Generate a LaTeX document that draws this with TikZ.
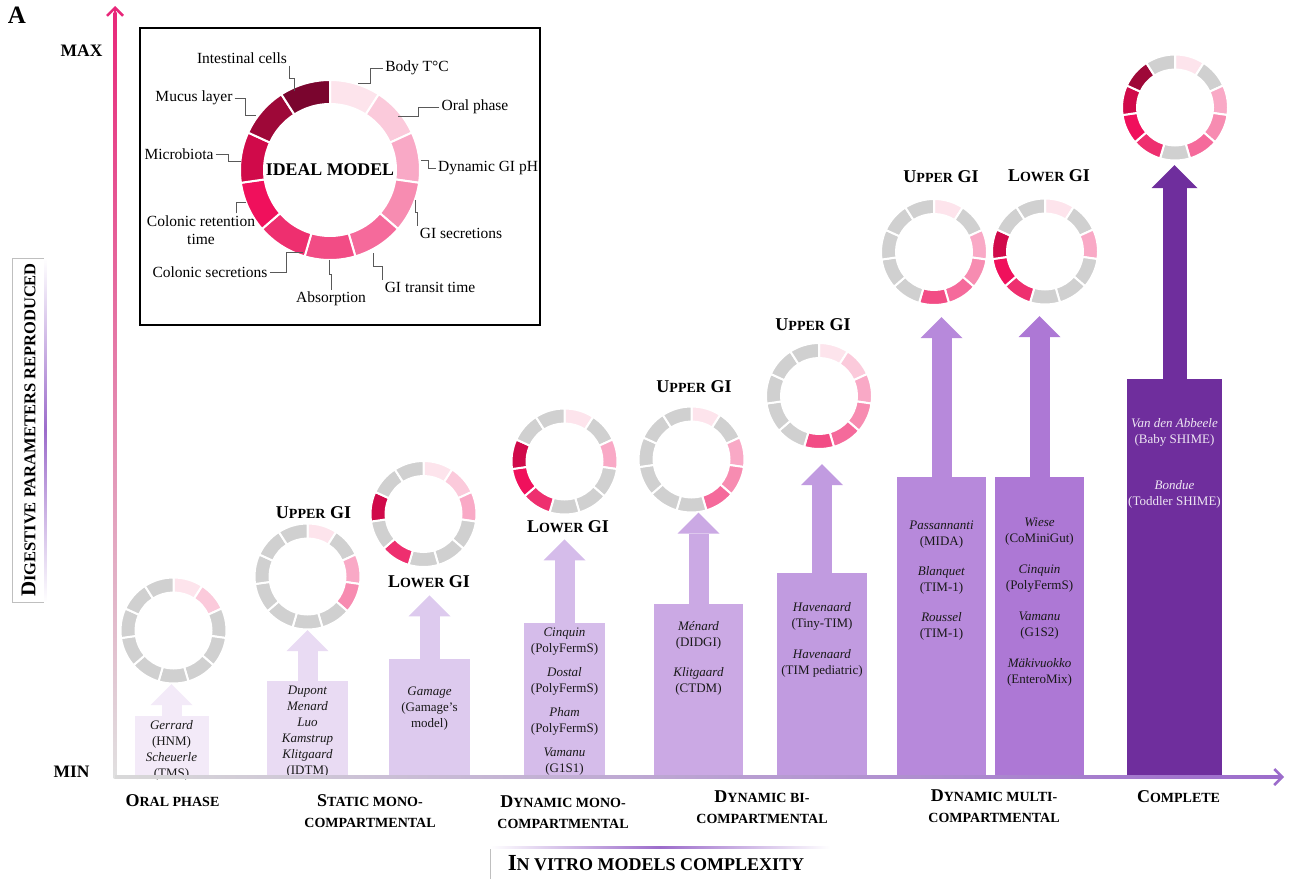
\documentclass[tikz,border=0pt]{standalone}
\usepackage{fontspec}
\setmainfont{Liberation Serif}
\usetikzlibrary{arrows.meta,positioning,calc}

% ring segment colours, clockwise from the top
\definecolor{pk0}{HTML}{FDE4EC}
\definecolor{pk1}{HTML}{FBCADB}
\definecolor{pk2}{HTML}{F9A9C6}
\definecolor{pk3}{HTML}{F78CB1}
\definecolor{pk4}{HTML}{F56A9B}
\definecolor{pk5}{HTML}{F24C85}
\definecolor{pk6}{HTML}{EE2F6F}
\definecolor{pk7}{HTML}{F0105C}
\definecolor{pk8}{HTML}{D00A4A}
\definecolor{pk9}{HTML}{9E0838}
\definecolor{pk10}{HTML}{7A052E}
\definecolor{gr}{HTML}{D0D0D0}
% bars
\definecolor{bar1}{HTML}{F3EAF8}
\definecolor{bar2}{HTML}{E9DBF3}
\definecolor{bar3}{HTML}{DDCAEE}
\definecolor{bar4}{HTML}{D5BCEA}
\definecolor{bar5}{HTML}{CBA9E4}
\definecolor{bar6}{HTML}{C19BE0}
\definecolor{bar7}{HTML}{B789DB}
\definecolor{bar8}{HTML}{AD78D5}
\definecolor{bar9}{HTML}{6F2E9D}
\definecolor{axpink}{HTML}{E8287A}
\definecolor{axpurple}{HTML}{9C6CCB}

\newcommand{\lowcap}[1]{{\fontsize{14}{16}\selectfont #1}}
\newcommand{\lowcapL}[1]{{\fontsize{16.5}{19}\selectfont #1}}
\newcommand{\lowcapXL}[1]{{\fontsize{18}{21}\selectfont #1}}

% #1 centre, #2 outer radius, #3 inner radius, #4 the 11 segment colours
\newcommand{\gutring}[4]{%
  \foreach \col [count=\k from 0] in {#4} {
    \pgfmathsetmacro{\angA}{-90+\k*360/11}
    \pgfmathsetmacro{\angB}{-90+(\k+1)*360/11}
    \filldraw[fill=\col, draw=white, line width=2pt]
      ($(#1)+(\angA:#2)$) arc[start angle=\angA, end angle=\angB, radius=#2]
      -- ($(#1)+(\angB:#3)$) arc[start angle=\angB, end angle=\angA, radius=#3] -- cycle;
  }%
}

\begin{document}
\begin{tikzpicture}[x=1pt, y=-1pt,
  bar/.style={rectangle, inner sep=0pt, anchor=south},
  uparrow/.style={line width=20pt, -{Triangle[width=42pt, length=21pt, line width=0pt]}},
  bartxt/.style={align=center, inner sep=0pt, font=\fontsize{13}{16}\selectfont, text=black!90},
  ringspot/.style={circle, inner sep=0pt, minimum size=106pt},
  gilab/.style={font=\fontsize{18}{21}\selectfont\bfseries, inner sep=2pt},
  catlab/.style={font=\fontsize{18}{21}\selectfont\bfseries, align=center, inner sep=0pt},
  partlab/.style={font=\fontsize{15.5}{18}\selectfont, align=center, inner sep=2pt},
  leader/.style={draw=black!65, line width=1pt},
  vhv/.style={to path={|- ($(\tikztostart)!.5!(\tikztotarget)$) -| (\tikztotarget)}},
  hvh/.style={to path={-| ($(\tikztostart)!.5!(\tikztotarget)$) |- (\tikztotarget)}}
]
\useasboundingbox (0,0) rectangle (1292,878);

% inset: the ideal model
\node[draw, line width=1.5pt, minimum width=400pt, minimum height=297pt, inner sep=0pt] (inset) at (340,176.5) {};
\node[ringspot, minimum size=180pt] (ideal) at (330,170) {};
\gutring{ideal}{90}{66}{pk0,pk1,pk2,pk3,pk4,pk5,pk6,pk7,pk8,pk9,pk10}
\node[font=\fontsize{17.8}{20}\selectfont\bfseries] (idealtxt) at (ideal) {IDEAL MODEL};

\node[partlab] (lInt) at (242,58) {Intestinal cells};
\node[partlab] (lBody) at (417,68) {Body T°C};
\node[partlab] (lOral) at (475,107) {Oral phase};
\node[partlab] (lpH) at (488,168) {Dynamic GI pH};
\node[partlab] (lSec) at (461,233) {GI secretions};
\node[partlab] (lTrans) at (430,287) {GI transit time};
\node[partlab] (lAbs) at (331,299) {Absorption};
\node[partlab] (lCsec) at (210,272) {Colonic secretions};
\node[partlab] (lCret) at (201,230) {Colonic retention\\time};
\node[partlab] (lMic) at (179,154) {Microbiota};
\node[partlab] (lMuc) at (194,98) {Mucus layer};

\coordinate (eInt) at (294,91);
\coordinate (eBody) at (358,83);
\coordinate (eOral) at (398,116);
\coordinate (epH) at (421,160);
\coordinate (eSec) at (415,200);
\coordinate (eTrans) at (373,253);
\coordinate (eAbs) at (329,260);
\coordinate (eCsec) at (303,252);
\coordinate (eCret) at (246,202);
\coordinate (eMic) at (241,161);
\coordinate (eMuc) at (256,115);

\draw[leader] (lInt.south east) to[vhv] (eInt);
\draw[leader] (lBody.west) to[hvh] (eBody);
\draw[leader] (lOral.west) to[hvh] (eOral);
\draw[leader] (lpH.west) to[hvh] (epH);
\draw[leader] (lSec.north west) to[vhv] (eSec);
\draw[leader] (lTrans.north west) to[vhv] (eTrans);
\draw[leader] (lAbs.north) to[vhv] (eAbs);
\draw[leader] (lCsec.east) to[hvh] (eCsec);
\draw[leader] (lCret.25) |- (eCret);
\draw[leader] (lMic.east) to[hvh] (eMic);
\draw[leader] (lMuc.east) to[hvh] (eMuc);

% rings of the model families
\node[ringspot] (r1) at (173.5,630.5) {};
\node[ringspot] (r2) at (307.5,576.5) {};
\node[ringspot] (r3) at (423.5,514) {};
\node[ringspot] (r4) at (564.5,461.5) {};
\node[ringspot] (r5) at (691.5,459.5) {};
\node[ringspot] (r6) at (819,396) {};
\node[ringspot] (r7) at (934,252) {};
\node[ringspot] (r8) at (1045,251.5) {};
\node[ringspot] (r9) at (1175,107.5) {};
\gutring{r1}{53}{38}{pk0,pk1,gr,gr,gr,gr,gr,gr,gr,gr,gr}
\gutring{r2}{53}{38}{pk0,gr,pk2,pk3,gr,gr,gr,gr,gr,gr,gr}
\gutring{r3}{53}{38}{pk0,pk1,pk2,gr,gr,gr,pk6,gr,pk8,gr,gr}
\gutring{r4}{53}{38}{pk0,gr,pk2,gr,gr,gr,pk6,pk7,pk8,gr,gr}
\gutring{r5}{53}{38}{pk0,gr,pk2,pk3,pk4,gr,gr,gr,gr,gr,gr}
\gutring{r6}{53}{38}{pk0,pk1,pk2,pk3,pk4,pk5,gr,gr,gr,gr,gr}
\gutring{r7}{53}{38}{pk0,gr,pk2,pk3,pk4,pk5,gr,gr,gr,gr,gr}
\gutring{r8}{53}{38}{pk0,gr,pk2,gr,gr,gr,pk6,pk7,pk8,gr,gr}
\gutring{r9}{53}{38}{pk0,gr,pk2,pk3,pk4,gr,pk6,pk7,pk8,pk9,gr}

\node[gilab] (u2) at (313.5,513) {U\lowcap{PPER} GI};
\node[gilab] (l3) at (429,582) {L\lowcap{OWER} GI};
\node[gilab] (l4) at (568,527) {L\lowcap{OWER} GI};
\node[gilab] (u5) at (694,387) {U\lowcap{PPER} GI};
\node[gilab] (u6) at (813,325) {U\lowcap{PPER} GI};
\node[gilab] (u7) at (941,177) {U\lowcap{PPER} GI};
\node[gilab] (l8) at (1049,176) {L\lowcap{OWER} GI};

% bars
\node[bar, fill=bar1, minimum width=74pt, minimum height=62pt] (b1) at (171.5,778) {};
\node[bar, fill=bar2, minimum width=81pt, minimum height=97pt] (b2) at (307.5,778) {};
\node[bar, fill=bar3, minimum width=81pt, minimum height=119pt] (b3) at (429.5,778) {};
\node[bar, fill=bar4, minimum width=81pt, minimum height=155pt] (b4) at (564.5,778) {};
\node[bar, fill=bar5, minimum width=89pt, minimum height=174pt] (b5) at (698.5,778) {};
\node[bar, fill=bar6, minimum width=90pt, minimum height=205pt] (b6) at (822,778) {};
\node[bar, fill=bar7, minimum width=89pt, minimum height=301pt] (b7) at (941.5,778) {};
\node[bar, fill=bar8, minimum width=89pt, minimum height=301pt] (b8) at (1039.5,778) {};
\node[bar, fill=bar9, minimum width=95pt, minimum height=399pt] (b9) at (1174.5,778) {};

\draw[uparrow, bar1, shorten >=0.5pt] (b1.north) -- (b1.north |- r1.south);
\draw[uparrow, bar2, shorten >=0.5pt] (b2.north) -- (b2.north |- r2.south);
\draw[uparrow, bar3, shorten >=5pt] (b3.north) -- (b3.north |- l3.south);
\draw[uparrow, bar4, shorten >=4pt] (b4.north) -- (b4.north |- l4.south);
\draw[uparrow, bar5] (b5.north) -- (b5.north |- r5.south);
\draw[uparrow, bar6, shorten >=15pt] (b6.north) -- (b6.north |- r6.south);
\draw[uparrow, bar7, shorten >=12pt] (b7.north) -- (b7.north |- r7.south);
\draw[uparrow, bar8, shorten >=11.5pt] (b8.north) -- (b8.north |- r8.south);
\draw[uparrow, bar9, line width=24pt, -{Triangle[width=46pt, length=23pt, line width=0pt]}, shorten >=4.5pt] (b9.north) -- (b9.north |- r9.south);

\node[bartxt, below=4.4pt of b1.north] (t1) {\textit{Gerrard}\\(HNM)\\\textit{Scheuerle}\\(TMS)};
\node[bartxt, below=5.4pt of b2.north] (t2) {\textit{Dupont}\\\textit{Menard}\\\textit{Luo}\\\textit{Kamstrup}\\\textit{Klitgaard}\\(IDTM)};
\node[bartxt, below=28.4pt of b3.north] (t3) {\textit{Gamage}\\(Gamage’s\\model)};
\node[bartxt, below=5.4pt of b4.north] (t4) {\textit{Cinquin}\\(PolyFermS)\\[8pt]\textit{Dostal}\\(PolyFermS)\\[8pt]\textit{Pham}\\(PolyFermS)\\[8pt]\textit{Vamanu}\\(G1S1)};
\node[bartxt, below=17.4pt of b5.north] (t5) {\textit{Ménard}\\(DIDGI)\\[14pt]\textit{Klitgaard}\\(CTDM)};
\node[bartxt, below=29.4pt of b6.north] (t6) {\textit{Havenaard}\\(Tiny-TIM)\\[15pt]\textit{Havenaard}\\(TIM pediatric)};
\node[bartxt, below=44.4pt of b7.north] (t7) {\textit{Passannanti}\\(MIDA)\\[14pt]\textit{Blanquet}\\(TIM-1)\\[14pt]\textit{Roussel}\\(TIM-1)};
\node[bartxt, below=41.4pt of b8.north] (t8) {\textit{Wiese}\\(CoMiniGut)\\[15pt]\textit{Cinquin}\\(PolyFermS)\\[15pt]\textit{Vamanu}\\(G1S2)\\[15pt]\textit{Mäkivuokko}\\(EnteroMix)};
\node[bartxt, text=white!88!bar9, below=39.4pt of b9.north] (t9) {\textit{Van den Abbeele}\\(Baby SHIME)\\[30pt]\textit{Bondue}\\(Toddler SHIME)};

% axes
\coordinate (orig) at (115,777);
\coordinate (ytop) at (115,6);
\coordinate (xend) at (1284,777);
\shade[bottom color=black!12, top color=axpink] ($(orig)+(-1.5,1.5)$) rectangle ($(ytop)+(1.5,6)$);
\draw[axpink, line width=2.5pt, -{Straight Barb[length=8pt, width=16pt]}] ($(ytop)+(0,10)$) -- (ytop);
\shade[left color=black!15, right color=axpurple] ($(orig)+(0,-1.5)$) rectangle ($(xend)+(-5,1.5)$);
\draw[axpurple, line width=2.5pt, -{Straight Barb[length=8pt, width=16pt]}] ($(xend)+(-10,0)$) -- (xend);

\node[font=\fontsize{25}{28}\selectfont\bfseries] (panel) at (17,15) {A};
\node[font=\fontsize{17.5}{20}\selectfont\bfseries, anchor=east] (ymax) at (106,51) {MAX};
\node[font=\fontsize{17.5}{20}\selectfont\bfseries, anchor=east] (ymin) at (93,772) {MIN};

\node[rotate=90, draw=black!25, line width=0.6pt, minimum width=344pt, minimum height=33pt, inner sep=0pt, font=\fontsize{21}{24}\selectfont\bfseries] (ylab) at (28.5,430) {D\lowcapL{IGESTIVE PARAMETERS REPRODUCED}};
\shade[top color=white, bottom color=white, middle color=axpurple] (44,258) rectangle (46.5,602);

\node[font=\fontsize{23}{26}\selectfont\bfseries] (xlab) at (656,863) {I\lowcapXL{N VITRO MODELS COMPLEXITY}};
\draw[black!25, line width=0.6pt] (490,880) |- (830,847);
\shade[left color=white, right color=white, middle color=axpurple] (490,846) rectangle (830,848.5);

% complexity classes
\node[catlab] (c1) at (172.5,801) {O\lowcap{RAL PHASE}};
\node[catlab] (c2) at (370,811.5) {S\lowcap{TATIC MONO-}\\\lowcap{COMPARTMENTAL}};
\node[catlab] (c3) at (563,812.5) {D\lowcap{YNAMIC MONO-}\\\lowcap{COMPARTMENTAL}};
\node[catlab] (c4) at (762,807) {D\lowcap{YNAMIC BI-}\\\lowcap{COMPARTMENTAL}};
\node[catlab] (c5) at (994,806.5) {D\lowcap{YNAMIC MULTI-}\\\lowcap{COMPARTMENTAL}};
\node[catlab] (c6) at (1178.5,797) {C\lowcap{OMPLETE}};
\end{tikzpicture}
\end{document}
